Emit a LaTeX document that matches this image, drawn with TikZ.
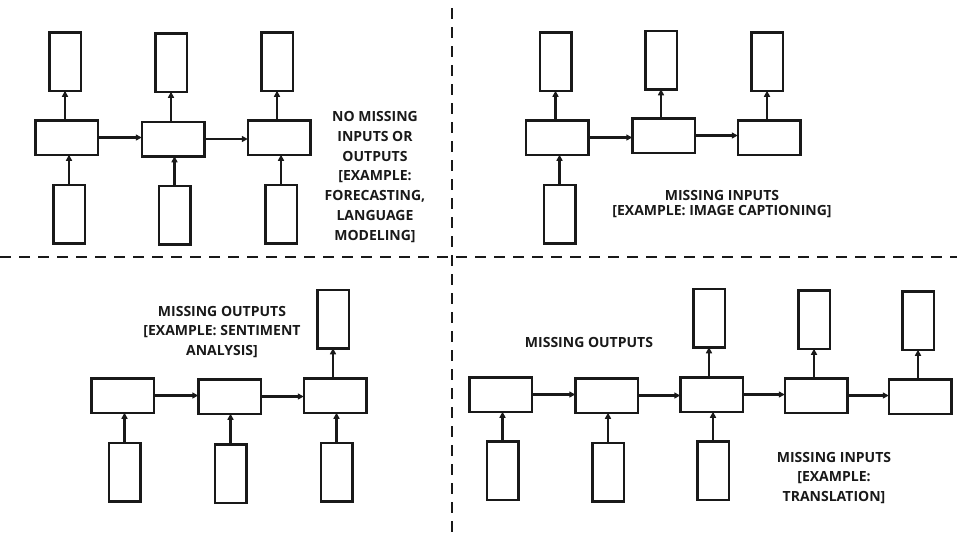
\documentclass[tikz,border=0pt]{standalone}
\usepackage{fontspec}
\setmainfont{Open Sans}
\usetikzlibrary{arrows.meta}
\begin{document}
\begin{tikzpicture}[x=1pt,y=-1pt,
  tallbox/.style={draw=black!90, line width=2.5pt, minimum width=31.5pt, minimum height=58.5pt, inner sep=0pt, outer sep=0pt},
  widebox/.style={draw=black!90, line width=2.5pt, minimum width=62.5pt, minimum height=34.5pt, inner sep=0pt, outer sep=0pt},
  conn/.style={draw=black!90, line width=2.4pt, -{Triangle[length=6pt,width=6pt]}},
  divider/.style={draw=black!90, line width=2.5pt, dash pattern=on 11pt off 8pt},
  lbl/.style={align=center, inner sep=0pt, text=black!90, font=\bfseries\fontsize{14}{19.8}\selectfont}
]
\fill[white] (0,0) rectangle (957,539);
\useasboundingbox (0,0) rectangle (957,539);

% dividers
\coordinate (hl) at (0,257);
\coordinate (hr) at (957,257);
\coordinate (vt) at (452,8);
\coordinate (vb) at (452,539);
\draw[divider] (hl) -- (hr);
\draw[divider] (vt) -- (vb);

% ---------- top-left ----------
\node[tallbox] (a_o1) at (65,61.5) {};
\node[tallbox] (a_o2) at (171,62.5) {};
\node[tallbox] (a_o3) at (277,61.5) {};
\node[widebox] (a_h1) at (66.5,137.5) {};
\node[widebox] (a_h2) at (173,139) {};
\node[widebox] (a_h3) at (279,137.5) {};
\node[tallbox] (a_i1) at (69,214) {};
\node[tallbox] (a_i2) at (174.5,215) {};
\node[tallbox] (a_i3) at (281,214) {};
\foreach \k in {1,2,3}{
  \draw[conn] (a_i\k.north) -- (a_i\k.north |- a_h\k.south);
  \draw[conn] (a_o\k.south |- a_h\k.north) -- (a_o\k.south);
}
\draw[conn] (a_h1.east) -- (a_h1.east -| a_h2.west);
\draw[conn] (a_h2.east) -- (a_h2.east -| a_h3.west);
\node[lbl] (a_t) at (375,177) {NO MISSING\\INPUTS OR\\OUTPUTS\\{[}EXAMPLE:\\FORECASTING,\\LANGUAGE\\MODELING{]}};

% ---------- top-right ----------
\node[tallbox] (b_o1) at (555.5,61.5) {};
\node[tallbox] (b_o2) at (661,60) {};
\node[tallbox] (b_o3) at (767,61.5) {};
\node[widebox] (b_h1) at (557,137.5) {};
\node[widebox] (b_h2) at (663.5,135.5) {};
\node[widebox] (b_h3) at (769,137.5) {};
\node[tallbox] (b_i1) at (559.5,214) {};
\draw[conn] (b_i1.north) -- (b_i1.north |- b_h1.south);
\foreach \k in {1,2,3}{
  \draw[conn] (b_o\k.south |- b_h\k.north) -- (b_o\k.south);
}
\draw[conn] (b_h1.east) -- (b_h1.east -| b_h2.west);
\draw[conn] (b_h2.east) -- (b_h2.east -| b_h3.west);
\node[lbl, font=\bfseries\fontsize{14}{14.5}\selectfont] (b_t) at (722,204) {MISSING INPUTS\\{[}EXAMPLE: IMAGE CAPTIONING{]}};

% ---------- bottom-left ----------
\node[tallbox] (c_o3) at (333,319) {};
\node[widebox] (c_h1) at (122.5,395.5) {};
\node[widebox] (c_h2) at (229.5,396.5) {};
\node[widebox] (c_h3) at (335,395.5) {};
\node[tallbox] (c_i1) at (124.5,472) {};
\node[tallbox] (c_i2) at (230.5,473.5) {};
\node[tallbox] (c_i3) at (336.5,472) {};
\foreach \k in {1,2,3}{
  \draw[conn] (c_i\k.north) -- (c_i\k.north |- c_h\k.south);
}
\draw[conn] (c_o3.south |- c_h3.north) -- (c_o3.south);
\draw[conn] (c_h1.east) -- (c_h1.east -| c_h2.west);
\draw[conn] (c_h2.east) -- (c_h2.east -| c_h3.west);
\node[lbl] (c_t) at (222,332) {MISSING OUTPUTS\\{[}EXAMPLE: SENTIMENT\\ANALYSIS{]}};

% ---------- bottom-right ----------
\node[widebox] (d_h1) at (500.5,394.5) {};
\node[widebox] (d_h2) at (606.5,395.5) {};
\node[widebox] (d_h3) at (711.5,394.5) {};
\node[widebox] (d_h4) at (816,395.5) {};
\node[widebox] (d_h5) at (920,396.5) {};
\node[tallbox] (d_o3) at (709,318) {};
\node[tallbox] (d_o4) at (814,319.5) {};
\node[tallbox] (d_o5) at (918,320.5) {};
\node[tallbox] (d_i1) at (502.5,470.5) {};
\node[tallbox] (d_i2) at (608,472) {};
\node[tallbox] (d_i3) at (713,470.5) {};
\foreach \k in {1,2,3}{
  \draw[conn] (d_i\k.north) -- (d_i\k.north |- d_h\k.south);
}
\foreach \k in {3,4,5}{
  \draw[conn] (d_o\k.south |- d_h\k.north) -- (d_o\k.south);
}
\draw[conn] (d_h1.east) -- (d_h1.east -| d_h2.west);
\draw[conn] (d_h2.east) -- (d_h2.east -| d_h3.west);
\draw[conn] (d_h3.east) -- (d_h3.east -| d_h4.west);
\draw[conn] (d_h4.east) -- (d_h4.east -| d_h5.west);
\node[lbl] (d_t1) at (589,342) {MISSING OUTPUTS};
\node[lbl] (d_t2) at (834,478) {MISSING INPUTS\\{[}EXAMPLE:\\TRANSLATION{]}};
\end{tikzpicture}
\end{document}
